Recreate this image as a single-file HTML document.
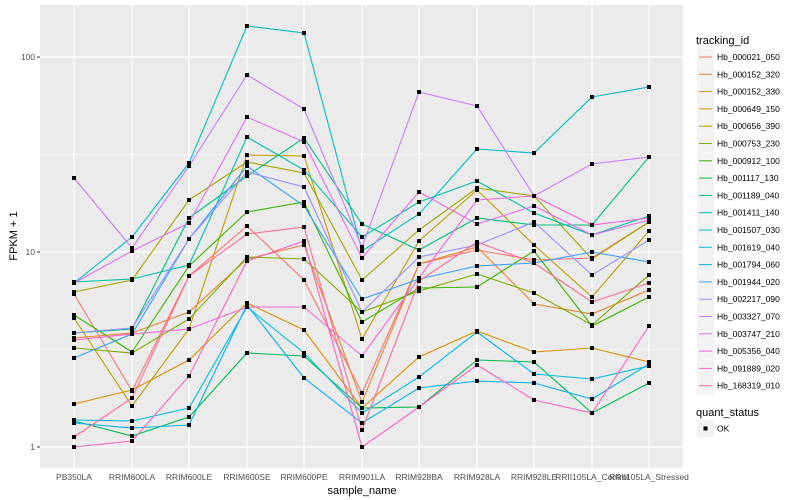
<!DOCTYPE html>
<html><head><meta charset="utf-8"><style>body{margin:0;background:#fff}svg{display:block;font-family:"Liberation Sans",sans-serif}</style></head><body>
<svg id="s" width="800" height="500" xmlns="http://www.w3.org/2000/svg">
<rect x="40" y="5" width="643" height="463" fill="#EBEBEB"/>
<g stroke="#fff" stroke-width="0.6"><line x1="40" x2="683" y1="154.5" y2="154.5"/><line x1="40" x2="683" y1="349.5" y2="349.5"/></g>
<g stroke="#fff" stroke-width="1.2">
<line x1="40" x2="683" y1="57" y2="57"/><line x1="40" x2="683" y1="252" y2="252"/><line x1="40" x2="683" y1="447" y2="447"/>
<line x1="74" x2="74" y1="5" y2="468"/><line x1="132" x2="132" y1="5" y2="468"/><line x1="189" x2="189" y1="5" y2="468"/><line x1="247" x2="247" y1="5" y2="468"/><line x1="304" x2="304" y1="5" y2="468"/><line x1="362" x2="362" y1="5" y2="468"/><line x1="419" x2="419" y1="5" y2="468"/><line x1="477" x2="477" y1="5" y2="468"/><line x1="534" x2="534" y1="5" y2="468"/><line x1="592" x2="592" y1="5" y2="468"/><line x1="649" x2="649" y1="5" y2="468"/>
</g>
<g id="lines" fill="none" stroke-width="1.1"></g>
<g id="pts" fill="#000"></g>
<g stroke="#333" stroke-width="1"><line x1="37" x2="40" y1="57" y2="57"/><line x1="37" x2="40" y1="252" y2="252"/><line x1="37" x2="40" y1="447" y2="447"/></g>
<g font-size="8.5" fill="#4D4D4D" text-anchor="end"><text x="35" y="60">100</text><text x="35" y="255">10</text><text x="35" y="450">1</text></g>
<g font-size="8.5" fill="#4D4D4D" text-anchor="middle">
<text x="74" y="480">PB350LA</text><text x="132" y="480">RRIM600LA</text><text x="189" y="480">RRIM600LE</text><text x="247" y="480">RRIM600SE</text><text x="304" y="480">RRIM600PE</text><text x="362" y="480">RRIM901LA</text><text x="419" y="480">RRIM928BA</text><text x="477" y="480">RRIM928LA</text><text x="534" y="480">RRIM928LE</text><text x="592" y="480">RRII105LA_Control</text><text x="649" y="480">RRII105LA_Stressed</text></g>
<text x="362" y="494" font-size="11" text-anchor="middle">sample_name</text>
<text transform="translate(17,236) rotate(-90)" font-size="11" text-anchor="middle">FPKM + 1</text>
<text x="696" y="44" font-size="11">tracking_id</text>
<g id="leg" font-size="8.5"></g>
<text x="696" y="416" font-size="11">quant_status</text>
<rect x="697" y="420" width="17" height="17" fill="#F2F2F2"/><rect x="703.5" y="426.5" width="4" height="4" fill="#000"/>
<text x="717" y="431.5" font-size="8.5">OK</text>
</svg>
<script>
var X=[74,132,189,247,304,362,419,477,534,592,649];
var C=["#F8766D","#EA8331","#D89000","#C09B00","#A3A500","#7CAE00","#39B600","#00BB4E","#00BF7D","#00C1A3","#00BFC4","#00BAE0","#00B0F6","#35A2FF","#9590FF","#C77CFF","#E76BF3","#FA62DB","#FF62BC","#FF6C91"];
var N=["Hb_000021_050","Hb_000152_320","Hb_000152_330","Hb_000649_150","Hb_000656_390","Hb_000753_230","Hb_000912_100","Hb_001117_130","Hb_001189_040","Hb_001411_140","Hb_001507_030","Hb_001619_040","Hb_001794_060","Hb_001944_020","Hb_002217_090","Hb_003327_070","Hb_003747_210","Hb_005356_040","Hb_091889_020","Hb_168319_010"];
var D=[
[294,391,276,226,280,393,264,250,260,258,222],
[338,333,312,259,245,402,264,247,304,314,290],
[404,390,360,303,330,408,357,331,352,348,362],
[318,406,329,155,156,339,241,190,245,297,231],
[292,280,200,162,173,280,230,188,196,259,222],
[348,353,319,257,259,312,291,274,293,325,275],
[315,352,266,212,202,322,288,287,251,326,297],
[421,436,417,353,356,408,407,360,362,413,383],
[333,329,218,176,138,224,250,218,225,225,157],
[282,279,265,137,170,237,202,181,213,235,216],
[283,237,163,26,33,251,214,149,153,97,87],
[420,421,408,307,353,413,377,332,374,379,366],
[423,428,425,305,378,423,388,381,383,399,364],
[358,334,239,166,206,299,279,266,263,252,262],
[333,328,239,172,187,312,257,245,222,275,240],
[178,248,166,75,109,247,92,106,196,164,157],
[283,251,223,117,142,258,192,224,206,235,220],
[340,334,329,307,307,356,278,200,196,225,218],
[447,441,376,261,241,447,407,365,400,413,326],
[437,398,276,234,227,430,281,242,263,302,283]];
var ns="http://www.w3.org/2000/svg",L=document.getElementById("lines"),P=document.getElementById("pts"),G=document.getElementById("leg");
D.forEach(function(d,i){var p=document.createElementNS(ns,"polyline");p.setAttribute("points",d.map(function(y,j){return X[j]+","+y}).join(" "));p.setAttribute("stroke",C[i]);L.appendChild(p);
d.forEach(function(y,j){var r=document.createElementNS(ns,"rect");r.setAttribute("x",X[j]-2);r.setAttribute("y",y-2);r.setAttribute("width",4);r.setAttribute("height",4);P.appendChild(r);});
var yy=48.5+17.3*i;var b=document.createElementNS(ns,"rect");b.setAttribute("x",697);b.setAttribute("y",yy);b.setAttribute("width",17);b.setAttribute("height",17);b.setAttribute("fill","#F2F2F2");G.appendChild(b);
var l=document.createElementNS(ns,"line");l.setAttribute("x1",699);l.setAttribute("x2",712);l.setAttribute("y1",yy+8.5);l.setAttribute("y2",yy+8.5);l.setAttribute("stroke",C[i]);G.appendChild(l);
var t=document.createElementNS(ns,"text");t.setAttribute("x",717);t.setAttribute("y",yy+11.5);t.textContent=N[i];G.appendChild(t);});
</script>
</body></html>
